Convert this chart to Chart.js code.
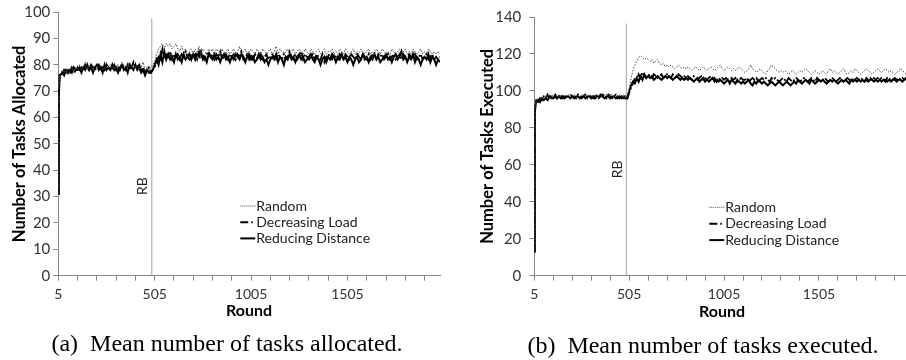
<!DOCTYPE html>
<html><head><meta charset="utf-8">
<script src="https://cdn.jsdelivr.net/npm/chart.js@4.4.1/dist/chart.umd.min.js"></script>
<style>
html,body{margin:0;padding:0;background:#fff;width:906px;height:360px;overflow:hidden;position:relative}
#wa{position:absolute;left:0;top:0;width:453px;height:330px}
#wb{position:absolute;left:453px;top:0;width:462px;height:330px}
.cap{position:absolute;font-family:"Liberation Serif","Times New Roman",serif;font-size:24px;color:#000;white-space:nowrap;transform:translate(-50%,-50%)}
</style></head><body>
<div id="wa"><canvas id="ca"></canvas></div>
<div id="wb"><canvas id="cb"></canvas></div>
<div class="cap" style="left:227px;top:343px">(a)&nbsp; Mean number of tasks allocated.</div>
<div class="cap" style="left:703px;top:345px">(b)&nbsp; Mean number of tasks executed.</div>
<script>
// ---- categories (round numbers) ----
const rounds = [5,8,12,
15,25,35,45,55,65,75,85,95,105,
115,125,135,145,155,165,175,185,195,205,
215,225,235,245,255,265,275,285,295,305,
315,325,335,345,355,365,375,385,395,405,
415,425,435,445,455,465,475,485,495,505,
515,525,535,545,555,565,575,585,595,605,
615,625,635,645,655,665,675,685,695,705,
715,725,735,745,755,765,775,785,795,805,
815,825,835,845,855,865,875,885,895,905,
915,925,935,945,955,965,975,985,995,1005,
1015,1025,1035,1045,1055,1065,1075,1085,1095,1105,
1115,1125,1135,1145,1155,1165,1175,1185,1195,1205,
1215,1225,1235,1245,1255,1265,1275,1285,1295,1305,
1315,1325,1335,1345,1355,1365,1375,1385,1395,1405,
1415,1425,1435,1445,1455,1465,1475,1485,1495,1505,
1515,1525,1535,1545,1555,1565,1575,1585,1595,1605,
1615,1625,1635,1645,1655,1665,1675,1685,1695,1705,
1715,1725,1735,1745,1755,1765,1775,1785,1795,1805,
1815,1825,1835,1845,1855,1865,1875,1885,1895,1905,
1915,1925,1935,1945,1955,1965,1975,1985];

const xTickValues = [5,105,205,305,405,505,605,705,805,905,1005,1105,1205,1305,1405,1505,1605,1705,1805,1905];
const xTickLabels = [5,505,1005,1505];
const yTicksAlloc = [0,10,20,30,40,50,60,70,80,90,100];
const yTicksExec = [0,20,40,60,80,100,120,140];
const seriesNames = ["Random","Decreasing Load","Reducing Distance"];
const rbRound = 490;

// ---- (a) tasks allocated ----
const allocRandom = [31,69,76,
76,78,77,78,76,78,79,77,79,78,
80,78,79,81,78,80,79,78,80,79,
79,80,78,79,81,79,80,78,80,79,
80,79,81,80,79,80,81,79,80,79,
80,78,79,81,78,79,78,79,80,81,
84,86,87,88,86,88,87,88,86,87,
88,86,85,87,85,86,84,85,86,84,
86,85,87,84,86,85,84,86,85,86,
84,86,85,84,86,84,85,86,84,85,
86,84,85,87,84,85,86,84,85,86,
85,84,86,85,84,86,85,84,85,86,
84,85,87,84,86,85,84,85,86,84,
85,86,84,85,86,85,84,86,85,84,
86,85,84,85,86,84,85,86,84,85,
85,86,84,85,84,86,85,84,86,85,
84,85,86,84,85,84,86,85,84,85,
86,84,85,84,86,85,84,86,85,84,
85,84,86,85,84,85,86,84,85,86,
84,85,84,86,85,84,85,86,84,85,
84,86,85,84,85,84,85,84];
const allocDecreasing = [31,70,76,
77,76,78,77,78,77,79,78,77,79,
78,79,78,80,79,78,80,79,78,79,
80,78,79,78,80,79,78,79,80,78,
79,78,80,79,78,80,78,79,81,79,
79,80,78,79,77,78,79,77,78,79,
81,83,82,86,83,84,83,85,82,84,
83,84,82,84,83,85,83,82,84,83,
84,82,85,83,84,82,84,85,83,84,
82,84,83,85,82,83,84,82,84,83,
84,82,84,83,85,82,83,84,82,84,
82,84,83,82,84,82,83,84,82,83,
84,83,82,84,83,82,84,82,83,85,
83,82,84,82,83,85,82,84,83,82,
83,84,82,84,83,82,84,81,83,84,
83,82,84,83,82,84,83,82,84,83,
82,84,83,82,84,83,82,84,83,82,
84,82,84,83,82,84,83,84,82,83,
84,82,83,84,82,83,84,82,84,83,
82,84,83,82,84,82,83,84,82,83,
84,82,83,84,82,83,82,83];
const allocReducing = [31,68,76,
76,77,76,78,77,78,77,79,78,78,
79,77,79,78,80,78,79,77,79,80,
78,79,77,80,78,79,78,80,78,79,
77,79,80,78,79,77,80,79,78,80,
78,79,77,78,76,78,77,77,78,80,
82,80,84,81,85,82,84,82,83,81,
84,82,83,81,84,82,83,84,82,84,
82,84,83,85,82,83,81,84,83,82,
84,82,83,81,83,84,82,83,81,83,
82,84,83,82,84,83,81,83,84,82,
83,81,82,84,82,83,81,82,80,82,
83,82,84,81,83,82,80,83,82,84,
82,83,81,83,84,82,83,81,82,83,
84,82,81,83,82,80,82,83,81,83,
82,84,83,81,83,82,84,82,83,81,
83,82,80,82,83,81,82,84,82,83,
81,83,82,84,82,83,81,82,83,84,
82,83,81,83,84,82,83,85,82,83,
81,83,82,84,81,83,82,80,82,83,
82,84,81,83,82,80,82,81];

// ---- (b) tasks executed ----
const execRandom = [13,89,94,
95,96,95,97,96,98,97,98,97,98,
97,98,97,98,97,98,97,98,98,97,
98,97,98,97,98,98,97,98,97,98,
97,98,98,97,98,97,98,98,97,98,
98,97,98,97,98,97,98,97,97,101,
107,111,114,116,118,119,118,117,118,117,
116,117,115,116,117,115,114,115,113,114,
113,114,113,112,113,114,113,112,113,112,
113,112,111,112,113,112,111,112,113,112,
111,112,113,112,111,112,113,114,112,111,
112,113,112,111,112,111,112,113,112,111,
110,111,112,114,112,111,110,111,112,111,
110,109,111,112,114,113,112,111,110,111,
110,111,110,109,110,111,110,109,110,111,
110,111,112,111,110,109,110,111,110,109,
110,111,110,109,111,112,110,111,110,109,
110,111,112,110,109,110,111,110,112,111,
110,109,110,111,112,111,110,109,110,111,
112,111,110,111,112,111,110,111,110,109,
110,111,112,111,110,109,108,107];
const execDecreasing = [13,89,94,
95,94,96,95,97,96,98,96,97,96,
98,96,97,98,96,97,96,97,98,97,
97,96,98,97,96,97,98,96,97,97,
96,98,97,96,97,98,97,96,98,97,
96,97,98,96,97,96,97,97,96,99,
102,104,107,106,109,107,110,108,107,109,
108,107,109,108,107,108,109,107,108,109,
108,107,109,108,107,109,108,107,108,107,
108,107,106,108,107,106,107,108,106,107,
106,107,108,106,107,105,107,106,107,106,
107,106,105,107,106,107,105,106,107,106,
106,107,105,106,107,106,107,105,106,107,
106,107,106,105,107,106,107,106,105,106,
107,106,105,107,106,105,106,107,106,105,
106,107,106,105,106,107,106,105,107,106,
105,106,107,106,105,106,107,106,105,106,
107,106,105,106,107,106,105,107,106,107,
106,107,106,105,107,106,107,106,107,106,
107,106,107,106,105,107,106,107,106,107,
106,107,106,107,106,107,106,105];
const execReducing = [13,88,93,
94,95,94,96,95,96,95,97,96,96,
97,96,97,96,97,96,97,97,96,97,
96,97,97,96,97,97,96,97,97,96,
97,96,97,97,98,97,96,97,97,96,
97,97,96,97,96,97,96,96,96,100,
103,105,104,107,105,108,106,109,107,108,
107,108,106,107,108,107,106,107,108,107,
108,107,106,107,108,107,106,107,106,107,
106,107,106,105,106,107,105,106,107,105,
106,105,106,107,105,106,105,106,105,104,
105,106,104,106,105,104,106,105,104,105,
104,105,106,104,103,105,104,106,105,104,
105,104,103,104,105,104,103,104,105,104,
103,104,105,104,103,104,105,104,106,105,
104,105,106,105,104,106,105,104,105,106,
105,106,105,104,105,106,105,106,105,104,
105,106,105,106,105,104,106,105,106,105,
106,105,106,105,106,105,106,106,105,106,
105,106,105,106,106,105,106,105,106,106,
105,106,106,105,106,107,106,104];

Chart.defaults.font.family = "Lato, 'Liberation Sans', sans-serif";
Chart.defaults.color = '#333';

const annot = {
  id: 'annot',
  afterDatasetsDraw(chart, args, o) {
    const {ctx, chartArea, scales: {x, y}} = chart;
    ctx.save();
    // RB label
    ctx.font = "14px Lato";
    ctx.fillStyle = '#222';
    ctx.translate(x.getPixelForValue(rbRound) + o.rbDx, y.getPixelForValue(o.rbY));
    ctx.rotate(-Math.PI / 2);
    ctx.textAlign = 'center';
    ctx.textBaseline = 'middle';
    ctx.fillText('RB', 0, 0);
    ctx.restore();
    // legend
    ctx.save();
    ctx.font = "14px Lato";
    ctx.textBaseline = 'middle';
    ctx.textAlign = 'left';
    chart.data.datasets.forEach((ds, i) => {
      if (!ds.legend) return;
      const yy = o.legY + i * o.legDy;
      const x0 = chartArea.left + o.legX;
      ctx.beginPath();
      ctx.strokeStyle = ds.borderColor;
      ctx.lineWidth = ds.legendWidth;
      ctx.setLineDash(ds.legendDash);
      ctx.moveTo(x0, yy);
      ctx.lineTo(x0 + 15, yy);
      ctx.stroke();
      ctx.setLineDash([]);
      ctx.fillStyle = '#222';
      ctx.fillText(ds.label, x0 + 16, yy);
    });
    ctx.restore();
  }
};

function pts(vals) { return rounds.map((r, i) => ({x: r, y: vals[i]})); }

function makeChart(id, vals, yTicks, yMax, cfg) {
  const datasets = [
    {label: seriesNames[0], legend: true, data: pts(vals[0]), borderColor: '#444', borderWidth: 1, borderDash: [1.5, 1.5],
     legendDash: [1, 1], legendWidth: 1},
    {label: seriesNames[1], legend: true, data: pts(vals[1]), borderColor: '#000', borderWidth: 1.8, borderDash: [8, 2, 2, 2],
     legendDash: [8, 3, 1.5, 3], legendWidth: 2},
    {label: seriesNames[2], legend: true, data: pts(vals[2]), borderColor: '#000', borderWidth: 2,
     legendDash: [], legendWidth: 2},
    {label: 'RB', legend: false, data: [{x: rbRound, y: 0}, {x: rbRound, y: cfg.rbTop}], borderColor: '#a0a0a0', borderWidth: 1}
  ];
  return new Chart(document.getElementById(id), {
    type: 'line',
    data: {datasets},
    plugins: [annot],
    options: {
      responsive: true, maintainAspectRatio: false, animation: false,
      layout: {padding: {top: 12, right: cfg.padRight, left: 0, bottom: 0}},
      elements: {point: {radius: 0}, line: {tension: 0}},
      plugins: {legend: {display: false}, tooltip: {enabled: false}, annot: cfg.annot},
      scales: {
        x: {
          type: 'linear', min: 5, max: 1985,
          afterFit: s => { s.height = 54.3; },
          afterBuildTicks: s => { s.ticks = xTickValues.map(v => ({value: v})); },
          grid: {drawOnChartArea: false, tickLength: 5, color: '#868686'},
          border: {color: '#868686'},
          ticks: {autoSkip: false, maxRotation: 0, padding: 5, color: '#333', font: {size: 14},
            callback: v => xTickLabels.includes(v) ? String(v) : ''},
          title: {display: true, text: 'Round', color: '#000', font: {size: 16, weight: 'bold'}, padding: {top: 0, bottom: cfg.xTitlePad}}
        },
        y: {
          min: 0, max: yMax,
          afterFit: s => { s.width = cfg.yWidth; },
          afterBuildTicks: s => { s.ticks = yTicks.map(v => ({value: v})); },
          grid: {drawOnChartArea: false, tickLength: 5, color: '#868686'},
          border: {color: '#868686'},
          ticks: {padding: cfg.yTickPad, color: '#333', font: {size: 15}},
          title: {display: true, text: cfg.yTitle, color: '#000', font: {size: 16.5, weight: 'bold'}, padding: {top: cfg.yTitlePad, bottom: 0}}
        }
      }
    }
  });
}

makeChart('ca', [allocRandom, allocDecreasing, allocReducing], yTicksAlloc, 100, {
  padRight: 13, yWidth: 58.3, yTickPad: 3, yTitlePad: 10, xTitlePad: 9.5, rbTop: 97.5,
  yTitle: 'Number of Tasks Allocated',
  annot: {rbDx: -9, rbY: 34, legX: 182, legY: 206, legDy: 16.2}
});
makeChart('cb', [execRandom, execDecreasing, execReducing], yTicksExec, 140, {
  padRight: 5, yWidth: 81.3, yTickPad: 8, yTitlePad: 25, xTitlePad: 8.5, rbTop: 136.5,
  yTitle: 'Number of Tasks Executed',
  annot: {rbDx: -9, rbY: 57.5, legX: 175, legY: 207.3, legDy: 16.4}
});
</script>
</body></html>
